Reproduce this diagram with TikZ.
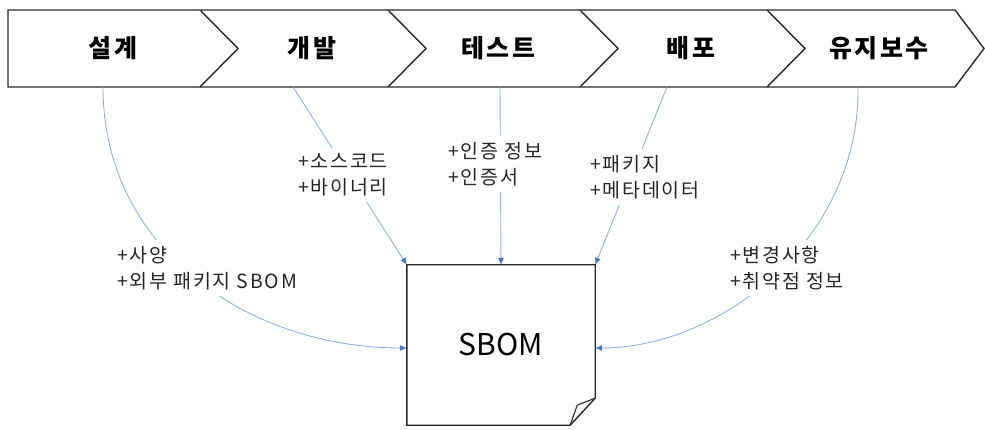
\documentclass[tikz,border=0pt]{standalone}
\usepackage{fontspec}
\setmainfont{Noto Sans CJK KR}
\newfontfamily\lblfont[LetterSpace=9]{Noto Sans CJK KR}
\newfontfamily\stagefont[LetterSpace=10]{Noto Sans CJK KR}
\usetikzlibrary{arrows.meta}
\definecolor{lineblue}{RGB}{150,176,222}
\definecolor{tipblue}{RGB}{68,114,196}
\definecolor{edgegray}{RGB}{40,40,40}
\begin{document}
\begin{tikzpicture}[x=1pt,y=-1pt,
  stage/.style={font=\stagefont\fontsize{25}{28}\selectfont\bfseries, text=black, inner sep=0pt},
  lbl/.style={font=\lblfont\fontsize{19.5}{26}\selectfont, align=left, fill=white, inner sep=6pt, text=black!85},
  flow/.style={draw=lineblue, line width=0.9pt, -{Latex[length=7pt,width=6pt,fill=tipblue,color=tipblue]}},
  outline/.style={draw=edgegray, line width=1.4pt, line join=miter},
]
\useasboundingbox (0,0) rectangle (985,430);
% process band
\draw[outline] (8,10) -- (955,10) -- (984,48.5) -- (955,87) -- (8,87) -- cycle;
\foreach \x in {200,388,580,767} \draw[outline] (\x,10) -- (\x+38,48.5) -- (\x,87);
\node[stage] (s1) at (113,48) {설계};
\node[stage] (s2) at (312,48) {개발};
\node[stage] (s3) at (498,48) {테스트};
\node[stage] (s4) at (691,48) {배포};
\node[stage] (s5) at (879,48) {유지보수};
\coordinate (b1) at (103,87);
\coordinate (b2) at (293,87);
\coordinate (b3) at (500,87);
\coordinate (b4) at (667,87);
\coordinate (b5) at (858,87);
% SBOM document
\node[minimum width=188pt, minimum height=160pt, inner sep=0pt, font=\fontsize{30}{34}\selectfont] (sbom) at (501,345) {SBOM};
\draw[outline] (sbom.north west) -- (sbom.north east) -- ([yshift=27pt]sbom.south east) -- ([xshift=-25pt]sbom.south east) -- (sbom.south west) -- cycle;
\draw[draw=edgegray, line width=1.1pt, line join=round] ([xshift=-25pt]sbom.south east) .. controls ([xshift=-22pt,yshift=10pt]sbom.south east) .. ([xshift=-18pt,yshift=20pt]sbom.south east) .. controls ([xshift=-8pt,yshift=24pt]sbom.south east) .. ([yshift=27pt]sbom.south east);
% connectors
\draw[flow] (b1) .. controls (103,250) and (250,348) .. ([yshift=-3pt]sbom.west);
\draw[flow] (b2) -- (sbom.north west);
\draw[flow] (b3) -- (sbom.north);
\draw[flow] (b4) -- (sbom.north east);
\draw[flow] (b5) .. controls (860,240) and (720,348) .. ([yshift=-3pt]sbom.east);
% labels
\node[lbl, anchor=west] (l1) at (111,268) {+사양\\+외부 패키지 SBOM};
\node[lbl, anchor=west] (l2) at (292,175) {+소스코드\\+바이너리};
\node[lbl, anchor=west] (l3) at (442,164) {+인증 정보\\+인증서};
\node[lbl, anchor=west] (l4) at (584,177) {+패키지\\+메타데이터};
\node[lbl, anchor=west] (l5) at (724,268) {+변경사항\\+취약점 정보};
\end{tikzpicture}
\end{document}
